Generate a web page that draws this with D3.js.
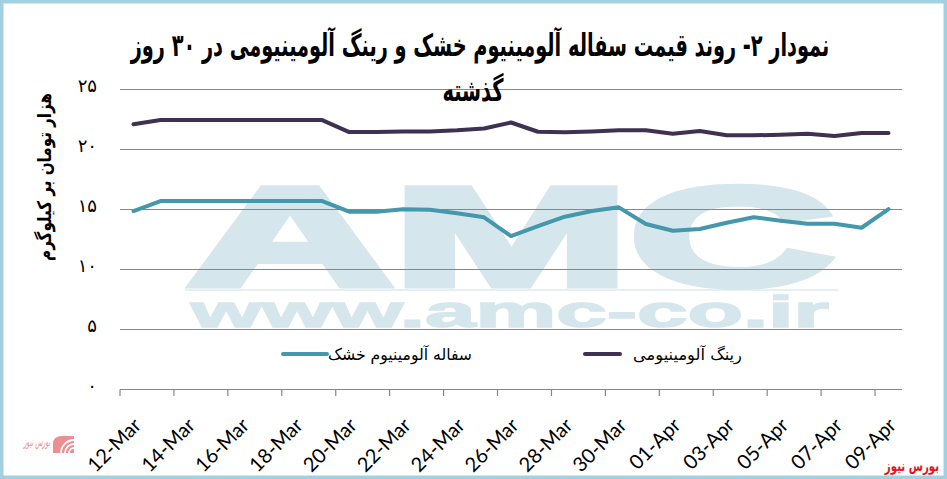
<!DOCTYPE html>
<html><head><meta charset="utf-8">
<script src="https://cdn.jsdelivr.net/npm/d3@7"></script>
<style>html,body{margin:0;padding:0;background:#fff;overflow:hidden}</style>
</head><body><svg id="c" width="947" height="479"></svg>
<script>
const categories = ["12-Mar","13-Mar","14-Mar","15-Mar","16-Mar","17-Mar","18-Mar","19-Mar","20-Mar","21-Mar","22-Mar","23-Mar","24-Mar","25-Mar","26-Mar","27-Mar","28-Mar","29-Mar","30-Mar","31-Mar","01-Apr","02-Apr","03-Apr","04-Apr","05-Apr","06-Apr","07-Apr","08-Apr","09-Apr"];
const ringValues = [22.1,22.45,22.45,22.45,22.45,22.45,22.45,22.45,21.45,21.45,21.5,21.5,21.6,21.75,22.25,21.48,21.43,21.5,21.6,21.6,21.32,21.54,21.18,21.18,21.23,21.32,21.12,21.37,21.37];
const scrapValues = [14.87,15.7,15.7,15.7,15.7,15.7,15.7,15.7,14.82,14.82,15.02,14.98,14.68,14.35,12.79,13.62,14.4,14.87,15.18,13.79,13.23,13.37,13.9,14.35,14.07,13.82,13.82,13.48,15.04];
const yTicks = [0,5,10,15,20,25];
const yTickLabels = ["۰","۵","۱۰","۱۵","۲۰","۲۵"];
const xTickLabels = categories.filter((d,i)=>i%2===0);
const seriesNames = ["سفاله آلومینیوم خشک","رینگ آلومینیومی"];
const seriesColors = ["#4597ac","#3f3152"];
const titleLines = ["نمودار ۲- روند قیمت سفاله آلومینیوم خشک و رینگ آلومینیومی در ۳۰ روز","گذشته"];
const yTitle = "هزار تومان بر کیلوگرم";
const watermarkBig = "AMC";
const watermarkUrl = "www.amc-co.ir";
const sourceText = "بورس نیوز";

const svg = d3.select("#c");
const W = 947, H = 479;
const pL = 120, pR = 902, pT = 89.5, pB = 389.5;
const x = d3.scaleBand().domain(categories).range([pL, pR]).padding(0);
const y = d3.scaleLinear().domain([0,25]).range([pB, pT]);
const fa = "'DejaVu Sans', sans-serif";

function fitX(sel, cx, target){
  const w = sel.node().getBBox().width;
  const s = target / w;
  sel.attr("transform", `translate(${cx},0) scale(${s},1) translate(${-cx},0)`);
  return s;
}

svg.append("rect").attr("x",0).attr("y",0).attr("width",W).attr("height",H).attr("fill","#fff");

// watermark (one text element, two lines)
const wmColor = "#d5e6ec";
svg.append("rect").attr("x",185).attr("y",289).attr("width",653).attr("height",2).attr("fill","#e6eff2");
const wm = svg.append("text").attr("fill",wmColor).attr("stroke",wmColor)
  .attr("font-family","'Liberation Sans', Arial, sans-serif").attr("font-weight","bold")
  .attr("text-anchor","middle").attr("stroke-linejoin","miter");
wm.append("tspan").attr("x",511).attr("y",285).attr("font-size",140).attr("stroke-width",7)
  .attr("textLength",647).attr("lengthAdjust","spacingAndGlyphs").text(watermarkBig);
wm.append("tspan").attr("x",510).attr("y",327).attr("font-size",45).attr("stroke-width",1.5)
  .attr("textLength",638).attr("lengthAdjust","spacingAndGlyphs").text(watermarkUrl);

// gridlines
svg.append("g").selectAll("line").data(yTicks.filter(d=>d>0)).join("line")
  .attr("x1",pL).attr("x2",pR).attr("y1",d=>y(d)).attr("y2",d=>y(d))
  .attr("stroke","#878787").attr("stroke-width",1.2);

// x axis
const xAxis = svg.append("g");
xAxis.append("line").attr("x1",pL).attr("x2",pR).attr("y1",pB).attr("y2",pB)
  .attr("stroke","#878787").attr("stroke-width",1.2);
xAxis.selectAll("line.tk").data(xTickLabels).join("line").attr("class","tk")
  .attr("x1",d=>x(d)).attr("x2",d=>x(d)).attr("y1",pB).attr("y2",pB+6.5)
  .attr("stroke","#878787").attr("stroke-width",1.2);
xAxis.selectAll("text").data(xTickLabels).join("text")
  .attr("transform",d=>`translate(${x(d)+x.bandwidth()/2+9},${pB+37}) rotate(-45)`)
  .attr("text-anchor","end").attr("font-family","Lato, 'Open Sans', sans-serif")
  .attr("font-size",20).attr("fill","#000").text(d=>d);

// y tick labels
svg.append("g").selectAll("text").data(yTicks).join("text")
  .attr("x",97).attr("y",d=>y(d)+2).attr("text-anchor","end")
  .attr("font-family",fa).attr("font-size",18).attr("fill","#000")
  .text((d,i)=>yTickLabels[i]);

// y title
const yt = svg.append("g").attr("transform","translate(51,177) rotate(-90)");
const ytt = yt.append("text").attr("x",0).attr("y",0).attr("text-anchor","middle").attr("direction","rtl")
  .attr("font-family",fa).attr("font-weight","bold").attr("font-size",19).attr("fill","#000").text(yTitle);
fitX(ytt, 0, 168);

// lines
const line = d3.line().x((d,i)=>x(categories[i])+x.bandwidth()/2).y(d=>y(d));
[scrapValues, ringValues].forEach((vals,k)=>{
  svg.append("path").datum(vals).attr("d",line).attr("fill","none")
    .attr("stroke",seriesColors[k]).attr("stroke-width",4)
    .attr("stroke-linejoin","round").attr("stroke-linecap","round");
});

// legend
const legendSpec = [{lx:283, lw:44, tc:400, tw:144},{lx:585, lw:35, tc:687.5, tw:109}];
seriesNames.forEach((n,k)=>{
  const s = legendSpec[k];
  svg.append("line").attr("x1",s.lx).attr("x2",s.lx+s.lw).attr("y1",354).attr("y2",354)
    .attr("stroke",seriesColors[k]).attr("stroke-width",4).attr("stroke-linecap","round");
  const t = svg.append("text").attr("x",s.tc).attr("y",360).attr("text-anchor","middle").attr("direction","rtl")
    .attr("font-family",fa).attr("font-size",16).attr("fill","#000").text(n);
  fitX(t, s.tc, s.tw);
});

// title
const t1 = svg.append("text").attr("x",480).attr("y",56).attr("text-anchor","middle").attr("direction","rtl")
  .attr("font-family",fa).attr("font-weight","bold").attr("font-size",31).attr("fill","#000").text(titleLines[0]);
const ts = fitX(t1, 480, 700);
const t2 = svg.append("text").attr("x",473).attr("y",101).attr("text-anchor","middle").attr("direction","rtl")
  .attr("font-family",fa).attr("font-weight","bold").attr("font-size",31).attr("fill","#000").text(titleLines[1]);
t2.attr("transform",`translate(473,0) scale(${ts},1) translate(-473,0)`);

// source text bottom right
const src = svg.append("text").attr("x",912).attr("y",471).attr("text-anchor","middle").attr("direction","rtl")
  .attr("font-family",fa).attr("font-weight","bold").attr("font-size",15).attr("fill","#e3121b").text(sourceText);
fitX(src, 912, 55);

// logo bottom-left
const logo = svg.append("g");
logo.append("path").attr("d","M53,453 L53,444 Q53,436 62,436 L74,436 L74,453 Z").attr("fill","#ec8e92");
[5,9,13].forEach(r=>{
  logo.append("path").attr("d",`M${74-r},453 A${r},${r} 0 0 1 74,${453-r}`)
    .attr("fill","none").attr("stroke","#fff").attr("stroke-width",1.8);
});
const lt = logo.append("text").attr("x",37).attr("y",446).attr("text-anchor","middle").attr("direction","rtl")
  .attr("font-family",fa).attr("font-size",12).attr("font-style","italic").attr("fill","#ec8e92").text(sourceText);
fitX(lt, 37, 28);

// border
svg.append("rect").attr("x",1.5).attr("y",1.5).attr("width",W-3).attr("height",H-3)
  .attr("fill","none").attr("stroke","#a2d0e1").attr("stroke-width",4);
</script>
</body></html>
